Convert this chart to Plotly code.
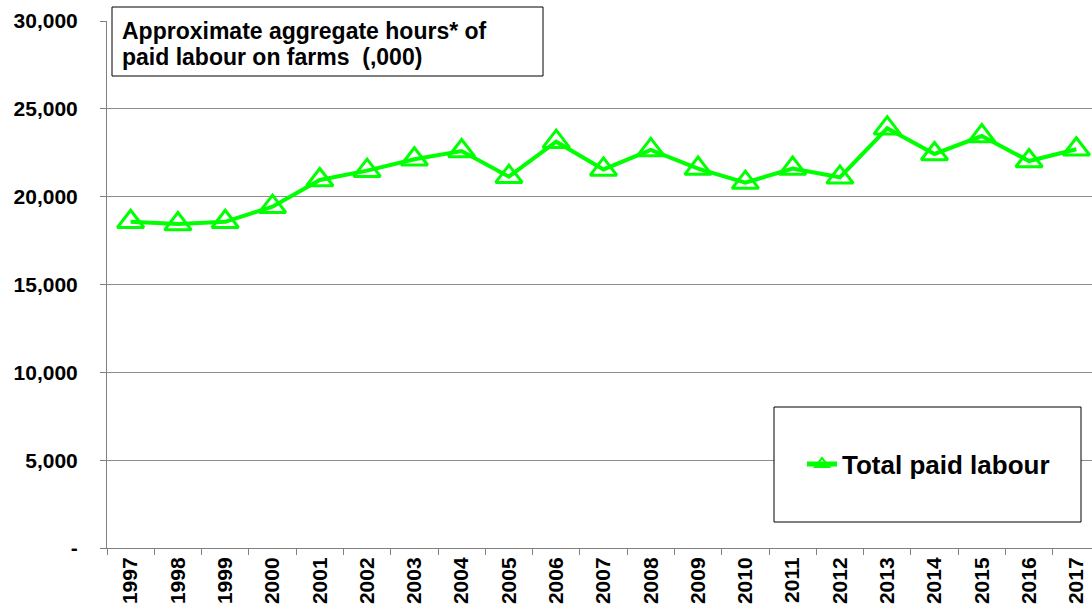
import plotly.graph_objects as go

years = [str(y) for y in range(1997, 2018)]
paid_labour = [18570, 18440, 18570, 19430, 20950, 21480, 22130, 22600, 21140, 23130,
               21550, 22660, 21600, 20800, 21600, 21100, 23890, 22430, 23450, 22030, 22700]
y_tickvals = [0, 5000, 10000, 15000, 20000, 25000, 30000]
y_ticktext = ["-", "5,000", "10,000", "15,000", "20,000", "25,000", "30,000"]
series_name = "Total paid labour"
title_lines = ["Approximate aggregate hours* of", "paid labour on farms  (,000)"]

W, H = 1092, 612
L, R, T, B = 107, 0, 21, 64
pw, ph = W - L - R, H - T - B

def px_x(px):
    return (px - L) / pw

def px_y(py):
    return (H - B - py) / ph

green = "#00FF00"
font_family = "Liberation Sans, Arial, sans-serif"

fig = go.Figure()
fig.add_trace(go.Scatter(
    x=years, y=paid_labour, name=series_name, mode="lines+markers",
    line=dict(color=green, width=4),
    marker=dict(symbol="triangle-up-open", size=23, color=green,
                line=dict(color=green, width=3)),
    showlegend=True,
))

fig.update_layout(
    width=W, height=H,
    margin=dict(l=L, r=R, t=T, b=B, autoexpand=False),
    paper_bgcolor="white", plot_bgcolor="white",
    font=dict(family=font_family, color="black"),
    xaxis=dict(
        type="category", range=[-0.5, 20.5 - 8 / 47.3],
        showline=True, linecolor="#808080", linewidth=1,
        ticks="outside", tickson="boundaries", ticklen=6, tickcolor="#808080",
        tickangle=-90, tickfont=dict(size=21, family=font_family, weight="bold"),
        showgrid=False, zeroline=False,
    ),
    yaxis=dict(
        range=[0, 30000], tickvals=y_tickvals, ticktext=y_ticktext,
        showline=True, linecolor="#808080", linewidth=1,
        ticks="outside", ticklen=6, tickcolor="#808080",
        ticklabelstandoff=18,
        tickfont=dict(size=21, family=font_family, weight="bold"),
        showgrid=True, gridcolor="#8c8c8c", gridwidth=1, zeroline=False,
    ),
    legend=dict(
        x=px_x(802), y=px_y(464), xanchor="left", yanchor="middle",
        bgcolor="rgba(255,255,255,0)", borderwidth=0,
        font=dict(size=26, family=font_family, weight="bold"),
        itemsizing="constant",
    ),
    shapes=[
        dict(type="rect", xref="paper", yref="paper",
             x0=px_x(112), x1=px_x(543), y0=px_y(76), y1=px_y(7),
             line=dict(color="black", width=1), fillcolor="white", layer="above"),
        dict(type="rect", xref="paper", yref="paper",
             x0=px_x(774), x1=px_x(1081), y0=px_y(522), y1=px_y(407),
             line=dict(color="black", width=1), fillcolor="white", layer="above"),
    ],
    annotations=[
        dict(xref="paper", yref="paper", x=px_x(120), y=px_y(yc),
             xanchor="left", yanchor="middle", align="left", showarrow=False,
             text=line,
             font=dict(size=23, family=font_family, weight="bold", color="black"))
        for line, yc in zip(title_lines, [31, 57])
    ],
)

fig.write_html("out.html", config={"displayModeBar": False},
               post_script="document.body.style.margin='0';document.body.style.overflow='hidden';")
